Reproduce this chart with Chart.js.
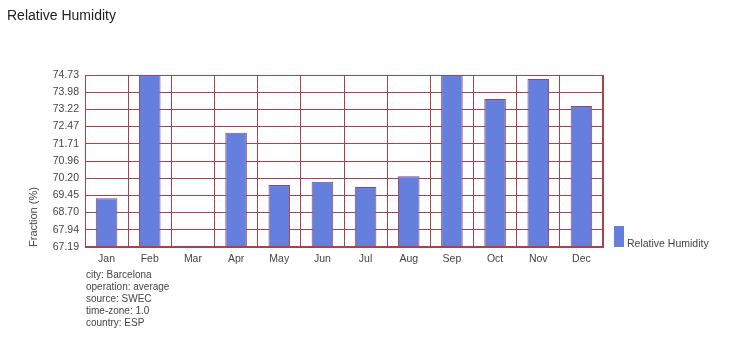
<!DOCTYPE html>
<html>
<head>
<meta charset="utf-8">
<script src="https://cdn.jsdelivr.net/npm/chart.js@4"></script>
<style>
  body { margin: 0; background: #fff; font-family: "Liberation Sans", Arial, sans-serif; }
  #wrap { position: relative; width: 730px; height: 343px; }
  #title { position: absolute; left: 7px; top: 7px; font-size: 14px; color: #222; }
  #ytitle { position: absolute; left: 33px; top: 217px; font-size: 11px; color: #444;
            transform: translate(-50%, -50%) rotate(-90deg); white-space: nowrap; }
  #notes { position: absolute; left: 86px; top: 269px; font-size: 10px; color: #444; line-height: 12px; }
  #legend { position: absolute; left: 614px; top: 226px; font-size: 10.5px; color: #444; }
  #legend .box { position: absolute; left: 0; top: 0; width: 10px; height: 21px; background: #6480dc; }
  #legend .lbl { position: absolute; left: 13px; top: 11px; white-space: nowrap; }
  canvas { position: absolute; left: 0; top: 0; }
</style>
</head>
<body>
<div id="wrap">
  <canvas id="c" width="730" height="343"></canvas>
  <div id="title">Relative Humidity</div>
  <div id="ytitle">Fraction (%)</div>
  <div id="legend"><div class="box"></div><div class="lbl">Relative Humidity</div></div>
  <div id="notes">
    city: Barcelona<br>
    operation: average<br>
    source: SWEC<br>
    time-zone: 1.0<br>
    country: ESP
  </div>
</div>
<script>
// données
const months = ['Jan', 'Feb', 'Mar', 'Apr', 'May', 'Jun', 'Jul', 'Aug', 'Sep', 'Oct', 'Nov', 'Dec'];
const humidity = [69.33, 74.73, null, 72.20, 69.91, 70.05, 69.82, 70.29, 74.73, 73.68, 74.56, 73.37];
const yTicks = [67.19, 67.94, 68.70, 69.45, 70.20, 70.96, 71.71, 72.47, 73.22, 73.98, 74.73];

const gridColor = '#a8424e';

new Chart(document.getElementById('c'), {
    type: 'bar',
    data: {
        labels: months,
        datasets: [{
            label: 'Relative Humidity',
            data: humidity,
            backgroundColor: '#6480dc',
            borderColor: '#9a4466',
            borderWidth: 1,
            borderSkipped: false,
            categoryPercentage: 1,
            barPercentage: 0.5
        }]
    },
    options: {
        responsive: false,
        animation: false,
        layout: { padding: { left: 0, right: 127, top: 75, bottom: 0 } },
        plugins: { legend: { display: false }, tooltip: { enabled: false } },
        scales: {
            x: {
                offset: true,
                grid: { color: gridColor, drawTicks: false, offset: true },
                border: { color: gridColor },
                ticks: { color: '#444', font: { family: 'Liberation Sans', size: 10.5 }, padding: 6 },
                afterFit: s => { s.height = 96; }
            },
            y: {
                min: yTicks[0],
                max: yTicks[yTicks.length - 1],
                afterBuildTicks: s => { s.ticks = yTicks.map(v => ({ value: v })); },
                grid: { color: gridColor, drawTicks: false },
                border: { color: gridColor },
                ticks: {
                    color: '#444', font: { family: 'Liberation Sans', size: 10.5 }, padding: 6,
                    callback: v => Number(v).toFixed(2)
                },
                afterFit: s => { s.width = 85; }
            }
        }
    },
    plugins: [{
        // cadre autour de la zone du graphique
        id: 'frame',
        afterDraw(chart) {
            const { ctx, chartArea: a } = chart;
            ctx.save();
            ctx.strokeStyle = gridColor;
            ctx.lineWidth = 1;
            ctx.strokeRect(a.left + 0.5, a.top + 0.5, a.right - a.left - 1, a.bottom - a.top - 1);
            ctx.restore();
        }
    }]
});
</script>
</body>
</html>
